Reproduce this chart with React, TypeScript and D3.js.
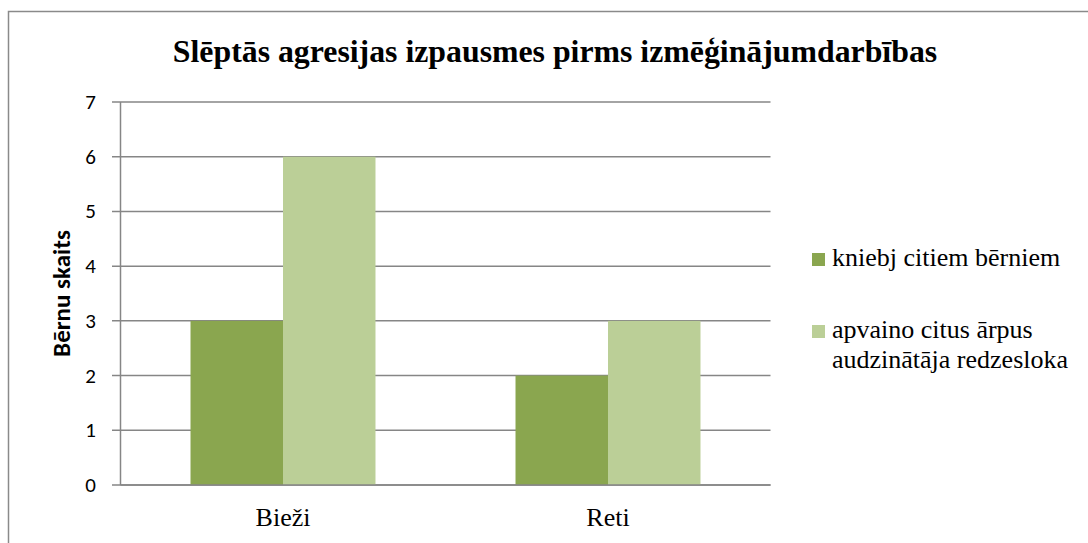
import React from "react";
import * as d3 from "d3";

const categories = ["Bieži", "Reti"];
const seriesNames = ["kniebj citiem bērniem", "apvaino citus ārpus audzinātāja redzesloka"];
const legendLines = [["kniebj citiem bērniem"], ["apvaino citus ārpus", "audzinātāja redzesloka"]];
const seriesA = [3, 2];
const seriesB = [6, 3];
const yTicks = [0, 1, 2, 3, 4, 5, 6, 7];
const title = "Slēptās agresijas izpausmes pirms izmēģinājumdarbības";
const yTitle = "Bērnu skaits";
const colors = ["#8AA64F", "#BBCF97"];

const W = 1088, H = 543;
const plot = { left: 120.5, right: 770.5, top: 102, bottom: 485 };
const serif = "Liberation Serif";
const sans = "Carlito";

export default function App() {
  const x0 = d3.scaleBand<string>().domain(categories).range([plot.left, plot.right]).paddingInner(0).paddingOuter(0);
  const inner = d3.scaleBand<number>().domain([0, 1]).range([0, x0.bandwidth()]).paddingOuter(0.757).paddingInner(0);
  const y = d3.scaleLinear().domain([0, 7]).range([plot.bottom, plot.top]);
  const series = [seriesA, seriesB];
  const legendY = [253, 325];

  return (
    <svg width={W} height={H} style={{ position: "absolute", left: 0, top: 0 }}>
      <rect x={0} y={0} width={W} height={H} fill="#fff" />
      <rect x={8.5} y={11.5} width={W + 20} height={H + 20} fill="#fff" stroke="#8a8a8a" strokeWidth={1.5} />
      <text x={555} y={62} textAnchor="middle" fontFamily={serif} fontWeight="bold" fontSize={31.8} fill="#000">{title}</text>
      {yTicks.map((t) => (
        <g key={t}>
          <line x1={112} x2={plot.right} y1={y(t)} y2={y(t)} stroke="#868686" strokeWidth={1.5} />
          <text x={96} y={y(t)} dy="0.33em" textAnchor="end" fontFamily={sans} fontSize={21} fill="#000">{t}</text>
        </g>
      ))}
      <line x1={plot.left} x2={plot.left} y1={plot.top} y2={plot.bottom} stroke="#868686" strokeWidth={1.5} />
      {categories.map((c, i) => (
        <g key={c}>
          {series.map((s, j) => (
            <rect key={j} x={(x0(c) as number) + (inner(j) as number)} width={inner.bandwidth()} y={y(s[i])} height={y(0) - y(s[i])} fill={colors[j]} />
          ))}
          <text x={(x0(c) as number) + x0.bandwidth() / 2} y={526} textAnchor="middle" fontFamily={serif} fontSize={26} fill="#000">{c}</text>
        </g>
      ))}
      <line x1={plot.left} x2={plot.right} y1={y(0)} y2={y(0)} stroke="#868686" strokeWidth={1.5} />
      <text transform={`translate(70,293.5) rotate(-90)`} textAnchor="middle" fontFamily={sans} fontWeight="bold" fontSize={25} fill="#000">{yTitle}</text>
      {seriesNames.map((name, j) => (
        <g key={name}>
          <rect x={812} y={legendY[j]} width={13} height={13} fill={colors[j]} />
          <text x={832} y={legendY[j] + 13} fontFamily={serif} fontSize={26} fill="#000">
            {legendLines[j].map((ln, k) => (
              <tspan key={k} x={832} dy={k === 0 ? 0 : 30}>{ln}</tspan>
            ))}
          </text>
        </g>
      ))}
    </svg>
  );
}
